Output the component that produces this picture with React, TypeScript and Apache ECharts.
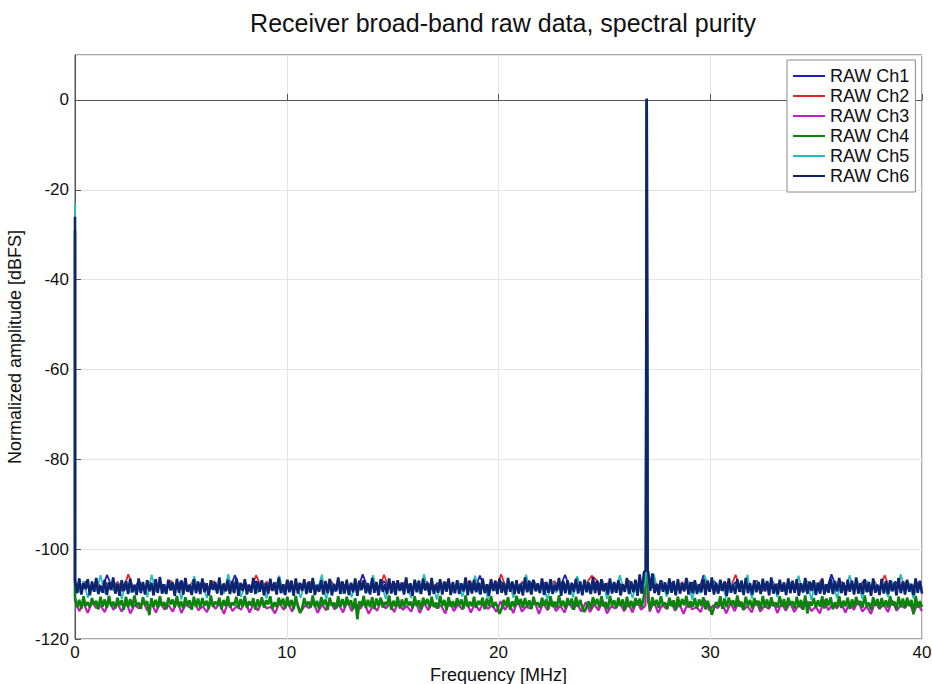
import React, { useEffect, useRef } from "react";
import * as echarts from "echarts";

const titleText = "Receiver broad-band raw data, spectral purity";
const xAxisName = "Frequency [MHz]";
const yAxisName = "Normalized amplitude [dBFS]";
const channelNames = ["RAW Ch1", "RAW Ch2", "RAW Ch3", "RAW Ch4", "RAW Ch5", "RAW Ch6"];
const channelColors = ["#1f1fb4", "#e0262b", "#c21cc2", "#0a840a", "#27bcbc", "#0c2472"];
const freqMin = 0;
const freqMax = 40;
// carrier line near 27 MHz: frequencies and per-channel levels (shoulder, peak, shoulder)
const carrierFreqs = [26.96, 27.0, 27.04];
const carrierLevels = [
  [-105.0, 0.2, -105.2],
  [-105.1, 0.1, -105.0],
  [-105.3, 0.0, -105.4],
  [-105.2, 0.1, -105.3],
  [-105.0, 0.2, -105.1],
  [-104.6, 0.3, -104.8],
];
// DC component at 0 MHz
const dcLevel = [-28, -27, -30, -29, -23, -26];

const ch1Noise = [
  -107.6, -109.1, -107.2, -108.8, -107.9, -109.3, -105.7, -108.6, -107.3, -109.4, -107.8, -108.9, -107.1, -109.2, -107.5, -108.7, -107.4, -109.0, -107.7, -108.7,
  -107.0, -109.3, -107.6, -108.5, -107.2, -109.4, -107.9, -108.9, -107.8, -109.1, -105.8, -108.6, -107.5, -109.5, -107.1, -108.8, -107.9, -109.2, -107.3, -108.7,
  -107.4, -109.0, -107.7, -108.6, -107.2, -109.3, -107.6, -108.9, -107.0, -109.1, -107.3, -108.7, -107.8, -109.4, -105.6, -108.8, -107.5, -109.2, -107.1, -108.6,
  -107.6, -108.9, -107.3, -109.3, -107.9, -108.6, -107.2, -109.0, -107.5, -108.8, -107.4, -109.4, -107.7, -108.7, -107.1, -109.1, -105.9, -108.9, -107.8, -109.2,
  -107.2, -109.0, -107.8, -108.7, -107.4, -109.3, -107.0, -108.8, -107.6, -109.5, -107.3, -108.6, -105.7, -109.1, -107.9, -108.9, -107.5, -109.2, -107.1, -108.7,
  -107.7, -109.4, -107.3, -108.8, -107.0, -109.1, -107.6, -108.5, -107.8, -109.3, -107.2, -108.9, -107.5, -109.0, -107.9, -108.7, -107.4, -109.4, -105.8, -108.6,
  -107.1, -109.2, -107.6, -108.8, -107.3, -109.5, -107.8, -108.7, -107.0, -109.1, -107.5, -108.9, -107.7, -109.3, -107.2, -108.6, -107.9, -109.0, -107.4, -108.8,
  -107.6, -109.3, -105.6, -108.7, -107.3, -109.1, -107.8, -108.9, -107.1, -109.4, -107.5, -108.6, -107.9, -109.2, -107.2, -108.8, -107.7, -109.0, -107.4, -108.9,
];
const ch2Noise = [
  -107.3, -108.9, -107.8, -109.2, -107.1, -108.6, -107.6, -108.7, -107.4, -109.3, -105.6, -108.8, -107.9, -109.0, -107.2, -108.6, -107.7, -109.4, -107.0, -108.9,
  -107.5, -109.1, -107.3, -108.7, -107.8, -109.2, -107.1, -108.8, -107.6, -109.5, -107.4, -108.9, -107.9, -109.0, -105.8, -108.6, -107.2, -109.3, -107.5, -108.9,
  -107.0, -109.1, -107.6, -108.7, -107.3, -109.4, -107.8, -108.8, -107.1, -109.2, -107.5, -108.6, -107.9, -109.0, -107.2, -108.9, -107.7, -109.3, -105.7, -108.7,
  -107.9, -109.1, -107.1, -108.8, -107.6, -109.4, -107.3, -108.6, -107.8, -109.0, -107.2, -108.9, -107.5, -109.2, -107.0, -108.7, -107.7, -109.3, -107.4, -108.8,
  -105.6, -109.0, -107.6, -108.7, -107.2, -109.3, -107.9, -108.9, -107.4, -109.1, -107.1, -108.6, -107.8, -109.4, -107.3, -108.8, -107.6, -105.9, -107.0, -109.2,
  -107.5, -108.8, -107.8, -109.1, -107.2, -108.7, -107.6, -109.4, -107.0, -108.9, -107.4, -109.2, -107.9, -108.6, -107.3, -109.0, -107.7, -108.8, -107.1, -109.3,
  -107.6, -109.0, -107.3, -108.7, -105.7, -109.2, -107.8, -108.9, -107.1, -109.4, -107.5, -108.6, -107.9, -109.1, -107.2, -108.8, -107.7, -109.3, -107.4, -108.9,
  -107.0, -109.2, -107.6, -108.8, -107.3, -109.0, -107.9, -108.7, -107.5, -109.4, -107.1, -108.9, -105.8, -109.1, -107.8, -108.6, -107.2, -109.3, -107.6, -108.8,
];
const ch3Noise = [
  -111.5, -113.8, -112.0, -114.2, -111.8, -113.1, -112.6, -114.0, -111.3, -113.5, -112.2, -113.9, -111.7, -114.3, -112.4, -113.2, -111.6, -113.7, -112.1, -114.1,
  -111.9, -113.4, -112.5, -113.9, -111.4, -114.2, -112.3, -113.0, -111.8, -113.6, -112.7, -114.0, -111.5, -113.3, -112.1, -114.4, -111.7, -113.8, -112.6, -113.5,
  -111.6, -114.1, -112.2, -113.7, -111.3, -113.2, -112.8, -114.3, -111.9, -113.5, -112.0, -113.9, -111.4, -114.0, -112.5, -113.1, -111.8, -114.2, -112.3, -113.6,
  -111.7, -113.4, -112.4, -114.1, -111.5, -113.8, -112.1, -113.3, -111.9, -114.4, -112.6, -113.7, -111.3, -113.2, -112.2, -114.0, -111.6, -113.5, -112.7, -113.9,
  -111.4, -114.2, -112.0, -113.6, -111.8, -113.1, -112.5, -114.3, -111.5, -113.8, -112.3, -113.4, -111.7, -114.1, -112.1, -113.7, -111.9, -113.3, -112.4, -114.0,
  -111.6, -113.5, -112.2, -114.2, -111.3, -113.9, -112.8, -113.2, -111.7, -114.4, -112.0, -113.6, -111.5, -113.8, -112.6, -114.1, -111.8, -113.4, -112.3, -113.9,
  -111.8, -114.0, -112.3, -113.6, -111.5, -114.3, -112.7, -113.2, -111.9, -113.8, -112.1, -114.1, -111.4, -113.5, -112.6, -113.9, -111.7, -114.2, -112.4, -113.3,
  -111.6, -113.7, -112.2, -114.4, -111.8, -113.4, -112.9, -114.0, -111.3, -113.6, -112.5, -113.1, -111.9, -114.3, -112.0, -113.8, -111.5, -113.5, -112.7, -114.1,
  -111.4, -113.9, -112.6, -113.3, -111.7, -114.2, -112.1, -113.7, -111.9, -114.0, -112.4, -113.4, -111.6, -113.8, -112.8, -114.3, -111.3, -113.6, -112.2, -113.2,
  -111.9, -114.1, -112.0, -113.5, -111.5, -113.9, -112.7, -114.4, -111.8, -113.3, -112.3, -114.0, -111.4, -113.7, -112.5, -113.1, -111.7, -114.2, -112.1, -113.8,
];
const ch4Noise = [
  -110.7, -112.9, -111.3, -113.3, -110.5, -112.6, -111.8, -113.0, -110.9, -112.4, -111.5, -113.4, -110.6, -112.8, -111.2, -113.1, -110.4, -112.7, -111.7, -113.2,
  -110.8, -112.5, -111.4, -113.5, -110.6, -112.9, -111.1, -113.0, -110.3, -112.6, -111.9, -113.3, -110.7, -112.4, -111.6, -114.7, -110.9, -112.8, -111.3, -113.1,
  -110.5, -112.7, -111.8, -113.4, -110.8, -112.3, -111.2, -113.0, -110.4, -112.9, -111.6, -113.2, -110.7, -112.5, -111.4, -113.5, -110.6, -112.8, -111.0, -113.1,
  -110.9, -112.6, -111.5, -113.3, -110.3, -112.9, -111.7, -112.4, -110.8, -113.4, -111.3, -112.7, -110.5, -113.0, -111.9, -112.5, -110.6, -113.2, -111.1, -112.8,
  -110.4, -113.1, -111.6, -112.6, -110.9, -113.5, -111.2, -112.8, -110.7, -113.0, -111.4, -112.3, -110.5, -113.3, -111.8, -112.9, -110.8, -112.5, -111.0, -113.2,
  -110.6, -112.7, -111.3, -113.4, -110.4, -112.8, -114.2, -113.1, -110.9, -112.6, -111.7, -113.0, -110.3, -112.9, -111.5, -113.3, -110.7, -112.4, -111.2, -113.5,
  -110.8, -112.6, -111.9, -113.2, -110.5, -112.8, -111.1, -113.0, -110.6, -112.5, -111.4, -113.4, -110.9, -115.6, -111.6, -112.7, -110.4, -113.1, -111.3, -112.9,
  -110.7, -113.3, -111.0, -112.6, -110.8, -113.0, -111.8, -112.4, -110.3, -113.5, -111.5, -112.8, -110.6, -113.2, -111.2, -112.9, -110.9, -112.5, -111.7, -113.1,
  -110.5, -112.7, -111.4, -113.4, -110.8, -112.3, -111.1, -113.0, -110.6, -112.9, -111.9, -113.2, -110.4, -112.6, -111.3, -113.5, -110.7, -112.8, -111.6, -113.0,
  -110.9, -112.5, -111.2, -113.3, -110.3, -112.9, -111.7, -112.7, -110.6, -113.1, -111.5, -112.4, -110.8, -113.4, -111.0, -112.6, -110.5, -113.0, -111.8, -112.8,
  -114.4, -113.2, -111.3, -112.7, -110.7, -113.5, -111.6, -112.9, -110.4, -112.5, -111.1, -113.1, -110.9, -112.8, -111.4, -113.3, -110.6, -112.4, -111.9, -113.0,
  -110.8, -112.6, -111.2, -113.4, -110.5, -112.9, -111.7, -113.1, -110.3, -112.7, -111.5, -113.2, -110.9, -112.5, -111.0, -113.5, -110.6, -112.8, -111.3, -113.0,
  -114.0, -112.9, -111.6, -113.3, -110.7, -112.4, -111.1, -113.0, -110.5, -112.8, -111.8, -113.4, -110.4, -112.6, -111.4, -113.1, -110.8, -112.7, -111.2, -113.5,
  -110.6, -112.9, -111.5, -113.2, -110.9, -112.5, -111.0, -113.0, -110.3, -112.8, -111.7, -113.4, -110.7, -112.6, -111.3, -113.1, -110.5, -112.4, -111.9, -113.3,
  -110.8, -112.7, -111.4, -113.5, -110.6, -112.9, -111.1, -112.5, -110.4, -113.0, -111.6, -112.8, -110.9, -113.2, -111.2, -112.6, -110.7, -113.4, -111.5, -112.9,
  -114.6, -113.1, -111.8, -112.7, -110.5, -113.3, -111.0, -112.9, -110.8, -112.4, -111.4, -113.0, -110.3, -112.8, -111.7, -113.5, -110.6, -112.6, -111.3, -113.2,
  -110.9, -112.5, -111.5, -113.4, -110.4, -112.9, -111.2, -113.1, -110.7, -112.7, -111.9, -113.0, -110.5, -112.8, -111.1, -113.3, -110.8, -112.4, -111.6, -113.2,
  -110.6, -112.9, -111.3, -113.5, -110.3, -114.3, -111.7, -112.6, -110.9, -113.0, -111.4, -112.8, -110.5, -113.2, -111.0, -112.5, -110.7, -113.4, -111.8, -112.9,
  -110.4, -113.1, -111.5, -112.7, -110.8, -113.3, -111.2, -112.9, -110.6, -112.4, -111.6, -113.0, -110.3, -112.8, -111.9, -113.5, -110.7, -112.6, -111.1, -113.2,
  -110.9, -112.8, -111.4, -113.0, -110.5, -112.5, -111.7, -113.4, -110.6, -112.9, -111.0, -113.1, -110.8, -112.7, -111.3, -114.5, -110.4, -113.0, -111.6, -112.9,
];
const ch5Noise = [
  -107.5, -109.6, -107.1, -110.8, -107.8, -109.4, -105.8, -109.9, -107.3, -109.2, -107.6, -111.1, -107.0, -109.7, -107.9, -109.3, -107.4, -110.7, -105.7, -109.5,
  -107.2, -109.8, -107.7, -109.1, -107.0, -111.2, -107.5, -109.6, -106.0, -109.4, -107.8, -110.9, -107.3, -109.2, -107.6, -109.9, -105.6, -109.5, -107.1, -110.6,
  -107.9, -109.3, -107.4, -109.7, -107.0, -111.0, -107.6, -109.4, -105.9, -109.8, -107.2, -109.1, -107.8, -110.8, -107.5, -109.6, -107.1, -109.3, -105.7, -111.3,
  -107.6, -109.5, -107.3, -109.9, -107.8, -110.7, -107.0, -109.2, -107.4, -109.7, -105.8, -109.4, -107.7, -111.1, -107.2, -109.6, -107.5, -109.3, -107.9, -110.9,
  -107.1, -109.8, -105.6, -109.5, -107.6, -111.2, -107.3, -109.1, -107.8, -109.7, -107.0, -110.6, -107.5, -109.4, -105.9, -109.9, -107.2, -111.0, -107.7, -109.3,
  -107.4, -109.6, -107.1, -110.8, -107.9, -109.2, -105.7, -109.8, -107.3, -109.5, -107.6, -111.3, -107.0, -109.7, -107.8, -109.1, -107.5, -110.7, -106.0, -109.4,
  -107.2, -109.9, -107.7, -109.3, -107.0, -111.1, -107.4, -109.6, -105.8, -109.2, -107.9, -110.9, -107.3, -109.8, -107.6, -109.4, -105.6, -109.7, -107.1, -110.6,
  -107.8, -109.5, -107.5, -109.2, -107.0, -111.2, -107.6, -109.8, -106.0, -109.3, -107.2, -109.6, -107.9, -110.8, -107.4, -109.1, -107.7, -109.9, -105.7, -111.0,
  -107.3, -109.4, -107.6, -109.7, -107.1, -110.7, -107.8, -109.5, -107.5, -109.2, -105.9, -109.8, -107.0, -111.3, -107.4, -109.6, -107.9, -109.1, -107.2, -110.9,
  -107.7, -109.3, -105.8, -109.6, -107.3, -111.1, -107.0, -109.9, -107.6, -109.4, -107.8, -110.6, -107.1, -109.7, -105.6, -109.2, -107.5, -111.0, -107.9, -109.5,
];
const ch6Noise = [
  -107.0, -109.8, -106.5, -110.1, -107.6, -108.9, -106.7, -110.3, -107.2, -109.5, -106.4, -110.0, -108.1, -109.7, -106.8, -110.2, -107.4, -109.1, -106.3, -109.9,
  -107.7, -110.4, -106.9, -109.3, -107.1, -110.0, -106.6, -109.6, -108.0, -110.2, -106.5, -109.8, -107.3, -110.1, -106.9, -109.4, -107.5, -110.3, -106.7, -109.7,
  -106.2, -109.9, -107.8, -110.0, -106.8, -109.2, -107.4, -110.4, -106.6, -109.7, -107.0, -110.1, -106.4, -109.5, -107.9, -110.2, -106.7, -109.8, -107.2, -110.0,
  -106.5, -109.6, -107.6, -110.3, -106.9, -109.1, -107.3, -109.9, -106.3, -110.2, -107.7, -109.4, -106.8, -110.0, -107.1, -109.8, -106.5, -110.4, -107.5, -109.3,
  -106.7, -110.1, -107.9, -109.7, -106.4, -110.0, -107.2, -109.5, -106.9, -110.3, -107.6, -109.9, -106.6, -109.2, -107.4, -110.1, -106.3, -109.8, -107.8, -110.2,
  -106.8, -109.6, -107.0, -110.4, -106.5, -109.9, -107.5, -109.3, -106.7, -110.0, -107.3, -109.7, -106.4, -110.2, -107.9, -109.5, -106.9, -110.1, -107.1, -109.8,
  -106.6, -110.3, -107.7, -109.4, -106.3, -110.0, -107.2, -109.9, -106.8, -110.2, -107.5, -109.6, -106.5, -110.4, -107.0, -109.1, -106.9, -109.8, -107.6, -110.1,
  -106.4, -109.7, -107.3, -110.3, -106.7, -109.5, -107.8, -110.0, -106.5, -109.9, -107.1, -110.2, -106.9, -109.3, -107.4, -110.1, -106.3, -109.8, -107.6, -110.4,
  -106.8, -109.6, -107.0, -110.0, -106.6, -109.2, -107.5, -110.3, -106.4, -109.9, -107.9, -109.7, -106.7, -110.1, -107.2, -109.5, -106.5, -110.2, -107.3, -109.8,
  -106.9, -110.0, -107.6, -109.4, -106.3, -110.3, -107.1, -109.9, -106.8, -109.6, -107.4, -110.1, -106.5, -109.8, -107.8, -110.4, -106.7, -109.3, -107.0, -110.0,
  -106.6, -109.7, -107.5, -110.2, -106.4, -109.5, -107.2, -110.0, -106.9, -109.9, -107.7, -110.3, -106.3, -109.6, -107.0, -110.1, -106.8, -109.4, -107.6, -109.8,
  -106.5, -110.2, -107.3, -109.7, -106.7, -110.0, -107.9, -109.3, -106.4, -110.4, -107.1, -109.8, -106.9, -110.1, -107.5, -109.5, -106.6, -109.9, -107.2, -110.3,
  -106.8, -109.6, -107.4, -110.0, -106.3, -109.8, -107.0, -110.2, -106.7, -109.4, -107.6, -110.1, -106.5, -109.9, -107.3, -109.7, -106.9, -110.3, -107.8, -109.5,
  -106.4, -110.0, -107.2, -109.6, -106.8, -110.4, -105.6, -109.9, -105.2, -110.1, -105.0, -109.3, -105.4, -109.8, -107.7, -110.2, -106.9, -109.5, -107.4, -110.0,
  -106.5, -109.7, -107.1, -110.3, -106.7, -109.9, -107.6, -109.4, -106.4, -110.1, -107.3, -109.8, -106.9, -110.0, -107.8, -109.6, -106.6, -110.2, -107.0, -109.5,
  -106.3, -110.1, -107.5, -109.9, -106.8, -109.3, -107.2, -110.4, -106.5, -109.7, -107.9, -110.0, -106.7, -109.5, -107.0, -110.2, -106.4, -109.8, -107.6, -110.1,
  -106.9, -109.6, -107.3, -110.0, -106.6, -109.4, -107.1, -110.3, -106.3, -109.9, -107.7, -110.1, -106.8, -109.5, -107.4, -110.2, -106.5, -109.8, -107.0, -109.7,
  -106.7, -110.4, -107.6, -109.6, -106.4, -110.0, -107.2, -109.3, -106.9, -110.2, -107.5, -109.9, -106.5, -110.1, -107.8, -109.7, -106.6, -110.0, -107.1, -109.4,
  -106.4, -109.8, -107.4, -110.3, -106.8, -109.5, -107.0, -110.1, -106.3, -109.9, -107.6, -110.0, -106.7, -109.6, -107.3, -110.4, -106.5, -109.7, -107.9, -110.2,
  -106.6, -109.9, -107.1, -110.0, -106.9, -109.4, -107.5, -110.3, -106.4, -109.8, -107.2, -110.1, -106.8, -109.5, -107.7, -110.2, -106.5, -109.7, -107.0, -109.9,
];
const channelNoise = [ch1Noise, ch2Noise, ch3Noise, ch4Noise, ch5Noise, ch6Noise];
const channelLineWidth = [1.8, 1.8, 2.2, 2.6, 1.8, 2.6];

const yMin = -120;
const yMax = 10;
const yInterval = 20;
const xInterval = 10;

function buildPoints(noise: number[], dc: number, carrier: number[]): number[][] {
  const pts: number[][] = [[freqMin, dc]];
  const step = (freqMax - freqMin) / (noise.length - 1);
  const lo = carrierFreqs[0];
  const hi = carrierFreqs[carrierFreqs.length - 1];
  let inserted = false;
  noise.forEach((v, i) => {
    const f = freqMin + i * step;
    if (f >= lo && f <= hi) return;
    if (!inserted && f > hi) {
      carrierFreqs.forEach((cf, j) => pts.push([cf, carrier[j]]));
      inserted = true;
    }
    pts.push([f, v]);
  });
  return pts;
}

const FONT = "'Liberation Sans', Arial, Helvetica, sans-serif";

export default function App() {
  const ref = useRef<HTMLDivElement>(null);
  useEffect(() => {
    if (!ref.current) return;
    const chart = echarts.init(ref.current, undefined, { renderer: "svg" });
    const series = channelNames.map((name, k) => ({
      name,
      type: "line",
      data: buildPoints(channelNoise[k], dcLevel[k], carrierLevels[k]),
      showSymbol: false,
      symbol: "none",
      lineStyle: { color: channelColors[k], width: channelLineWidth[k] },
      itemStyle: { color: channelColors[k] },
      emphasis: { disabled: true },
    }));
    chart.setOption({
      animation: false,
      backgroundColor: "#ffffff",
      textStyle: { fontFamily: FONT },
      title: {
        text: titleText,
        left: 498,
        top: 5,
        textAlign: "center",
        textStyle: { fontFamily: FONT, fontSize: 25, fontWeight: "normal", color: "#111" },
      },
      legend: {
        orient: "vertical",
        left: 787,
        top: 60,
        padding: [6, 6, 6, 6],
        itemGap: 0,
        itemWidth: 32,
        itemHeight: 2,
        icon: "rect",
        backgroundColor: "#ffffff",
        borderColor: "#8a8a8a",
        borderWidth: 1,
        borderRadius: 0,
        data: channelNames,
        textStyle: { fontFamily: FONT, fontSize: 18, lineHeight: 20, color: "#111" },
      },
      grid: {
        left: 75,
        right: 10,
        top: 55,
        bottom: 45,
        show: true,
        borderColor: "#555",
        borderWidth: 1,
        containLabel: false,
        outerBoundsMode: "none",
      },
      xAxis: {
        type: "value",
        min: freqMin,
        max: freqMax,
        interval: xInterval,
        name: xAxisName,
        nameLocation: "middle",
        nameGap: 22,
        nameTextStyle: { fontFamily: FONT, fontSize: 18, color: "#111" },
        axisLine: { show: true, lineStyle: { color: "#555", width: 1 } },
        axisTick: { show: true, inside: true, length: 6, lineStyle: { color: "#555" } },
        axisLabel: { fontFamily: FONT, fontSize: 17, color: "#111", margin: 5 },
        splitLine: { show: true, lineStyle: { color: "#e4e4e4", width: 1 } },
      },
      yAxis: {
        type: "value",
        min: yMin,
        max: yMax,
        interval: yInterval,
        name: yAxisName,
        nameLocation: "middle",
        nameGap: 47,
        nameTextStyle: { fontFamily: FONT, fontSize: 18, color: "#111" },
        axisLine: { show: true, lineStyle: { color: "#555", width: 1 } },
        axisTick: { show: true, inside: true, length: 6, lineStyle: { color: "#555" } },
        axisLabel: { fontFamily: FONT, fontSize: 17, color: "#111", margin: 6, showMaxLabel: false },
        splitLine: { show: true, lineStyle: { color: "#e4e4e4", width: 1 } },
      },
      series,
    });
    return () => chart.dispose();
  }, []);
  return <div ref={ref} style={{ width: 932, height: 684, position: "absolute", left: 0, top: 0 }} />;
}
